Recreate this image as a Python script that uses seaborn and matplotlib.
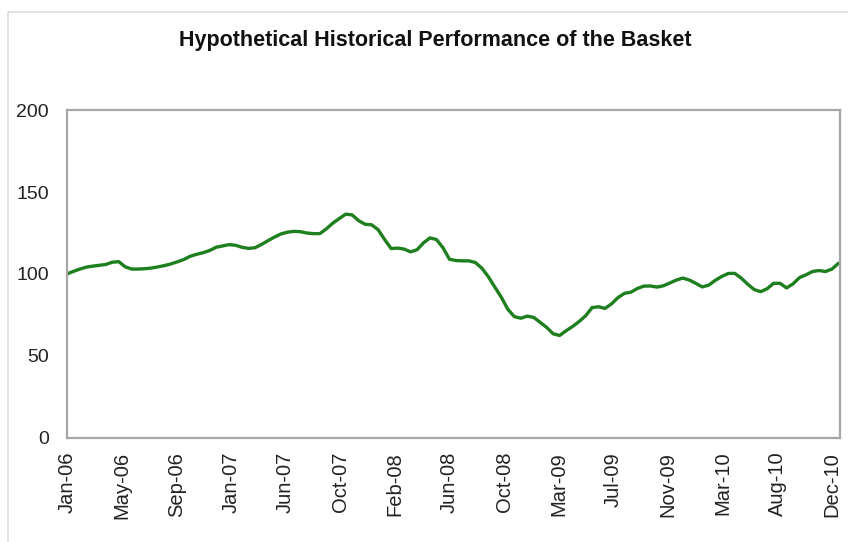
import numpy as np
import pandas as pd
import matplotlib
matplotlib.use("Agg")
import matplotlib.pyplot as plt
import seaborn as sns
from matplotlib.patches import Rectangle

# basket level, every half month from Jan-06
basket = [100, 101.6, 103, 104.2, 104.8, 105.3, 105.8, 107.2, 107.5, 104.3,
          103, 103, 103.2, 103.6, 104.3, 105.1, 106.1, 107.4, 108.8, 110.8,
          112, 113, 114.3, 116.3, 117.1, 117.9, 117.5, 116.3, 115.6, 116,
          118, 120.3, 122.5, 124.4, 125.5, 126, 125.8, 125, 124.6, 124.6,
          127.5, 131, 133.8, 136.5, 136, 132.5, 130.3, 130, 127, 121,
          115.5, 115.8, 115.2, 113.5, 114.8, 119, 122, 121, 116, 109,
          108.2, 108, 108, 107, 103.5, 98.3, 92, 85.8, 78.5, 74,
          73, 74.3, 73.5, 70.5, 67.4, 63.5, 62.5, 65.4, 68, 71,
          74.5, 79.5, 80, 79, 81.8, 85.6, 88.2, 88.9, 91.2, 92.6,
          92.7, 92, 92.8, 94.5, 96.3, 97.5, 96.3, 94.3, 92.1, 93.2,
          96.1, 98.5, 100.3, 100.4, 97.5, 93.8, 90.5, 89.2, 91, 94.3,
          94.3, 91.5, 94, 97.8, 99.5, 101.5, 102.1, 101.5, 103, 106.5]
months = np.arange(len(basket)) / 2.0

tick_labels = ["Jan-06", "May-06", "Sep-06", "Jan-07", "Jun-07", "Oct-07", "Feb-08",
               "Jun-08", "Oct-08", "Mar-09", "Jul-09", "Nov-09", "Mar-10", "Aug-10", "Dec-10"]
y_ticks = [0, 50, 100, 150, 200]

df = pd.DataFrame({"month": months, "level": basket})

sns.set_style("white")
plt.rcParams["font.family"] = ["Liberation Sans", "DejaVu Sans"]

fig = plt.figure(figsize=(8.48, 5.42), dpi=100)
ax = fig.add_axes([0.079, 0.192, 0.912, 0.605])

sns.lineplot(data=df, x="month", y="level", color="#1d7f1d", linewidth=2.4, ax=ax)

ax.set_xlim(0, 59.65)
ax.set_ylim(0, 200)
ax.set_yticks(y_ticks)
ax.set_xticks(np.linspace(0, 59, len(tick_labels)))
ax.set_xticklabels(tick_labels, rotation=90)
ax.set_xlabel("")
ax.set_ylabel("")
ax.tick_params(axis="both", colors="#999999", labelcolor="#222222",
               direction="out", length=4, width=1)
ax.tick_params(axis="x", labelsize=14.5, pad=6)
ax.tick_params(axis="y", labelsize=14, pad=9)
for s in ax.spines.values():
    s.set_color("#a6a6a6")
    s.set_linewidth(1.6)

fig.text(0.513, 0.915, "Hypothetical Historical Performance of the Basket",
         fontsize=15.5, fontweight="bold", color="#111111",
         ha="center", va="baseline")

# light frame around the chart area
fig.patches.append(Rectangle((8 / 848, -0.1), 1.2, 1.1 - 12 / 542,
                             transform=fig.transFigure, fill=False,
                             edgecolor="#dddddd", linewidth=1.2, figure=fig))

fig.savefig("out.png", dpi=100)
